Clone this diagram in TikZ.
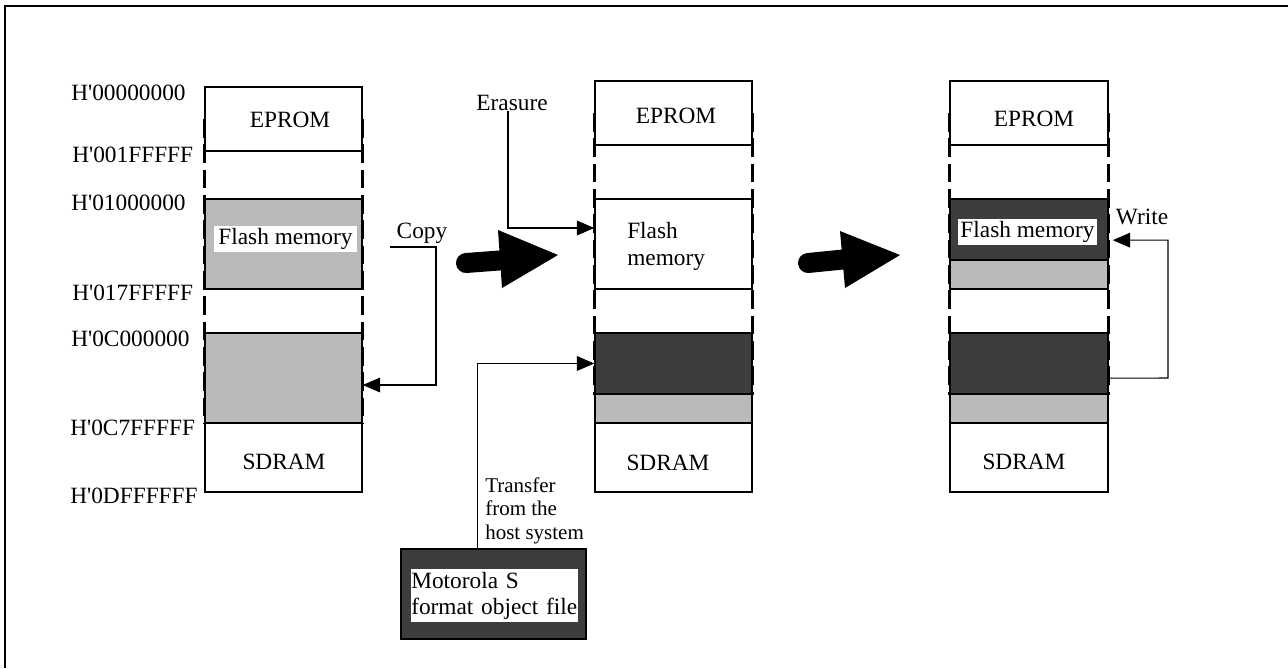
\documentclass[tikz,border=0pt]{standalone}
\usepackage{fontspec}
\setmainfont{Liberation Serif}
\usetikzlibrary{arrows.meta,fit}
\newcommand{\hq}{H\textquotesingle}
\begin{document}
\begin{tikzpicture}[x=0.75pt,y=-0.75pt,
  lbl/.style={font=\fontsize{17.5}{20}\selectfont, inner sep=0},
  small/.style={font=\fontsize{15.75}{17.6}\selectfont, inner sep=0},
  region/.style={draw, line width=1.1pt, inner sep=0},
  plain/.style={region},
  light/.style={region, fill=black!27},
  dark/.style={region, fill=black!76},
  side/.style={line width=2pt, dash pattern=on 14pt off 5pt},
  conn/.style={line width=0.8pt},
  arr/.style={conn, -{Triangle[length=13pt,width=11pt]}},
  bigarrow/.style={fill=black},
  whitebg/.style={fill=white}
]
\useasboundingbox (0,0) rectangle (1288,668);
% frame (only top and left edges visible)
\draw[line width=1.1pt] (5,668) -- (5,6) -- (1288,6);

% ---------- Column A ----------
\node[light, fit={(205,199)(362,289)}] (aflash) {};
\node[light, fit={(205,333)(362,423)}] (asdr1) {};
\node[plain, fit={(205,87)(362,151)}] (aeprom) {};
\node[plain, fit={(205,423)(362,492)}] (asdram) {};
\draw[side] (aeprom.west) -- (asdr1.south west);
\draw[side] (aeprom.east) -- (asdr1.south east);
\node[lbl] (aepromt) at (290,120) {EPROM};
\node[lbl, whitebg, inner xsep=3pt, minimum height=19.5pt] (aflasht) at (285.5,239) {Flash memory};
\node[lbl] (asdramt) at (284,462) {SDRAM};

\node[lbl, anchor=west] (ad1) at (71,93) {\hq00000000};
\node[lbl, anchor=west] (ad2) at (72,155) {\hq001FFFFF};
\node[lbl, anchor=west] (ad3) at (71,203) {\hq01000000};
\node[lbl, anchor=west] (ad4) at (72,293) {\hq017FFFFF};
\node[lbl, anchor=west] (ad5) at (71,339) {\hq0C000000};
\node[lbl, anchor=west] (ad6) at (70,428) {\hq0C7FFFFF};
\node[lbl, anchor=west] (ad7) at (70,496) {\hq0DFFFFFF};

% ---------- Column B ----------
\node[plain, fit={(595,81)(752,145)}] (beprom) {};
\node[plain, fit={(595,199)(752,289)}] (bflash) {};
\node[dark, fit={(595,333)(752,394)}] (bdark) {};
\node[light, fit={(595,394)(752,423)}] (blight) {};
\node[plain, fit={(595,423)(752,492)}] (bsdram) {};
\draw[side] (beprom.west) -- (bdark.south west);
\draw[side] (beprom.east) -- (bdark.south east);
\node[lbl] (bepromt) at (676,116) {EPROM};
\node[lbl, anchor=west, align=left] (bflasht) at (627,246.5) {Flash\\memory};
\node[lbl] (bsdramt) at (668,463) {SDRAM};

% ---------- Column C ----------
\node[plain, fit={(950,81)(1108,145)}] (ceprom) {};
\node[dark, fit={(950,199)(1108,260)}] (cdark) {};
\node[light, fit={(950,260)(1108,289)}] (clight) {};
\node[dark, fit={(950,333)(1108,394)}] (cdark2) {};
\node[light, fit={(950,394)(1108,423)}] (clight2) {};
\node[plain, fit={(950,423)(1108,492)}] (csdram) {};
\draw[side] (ceprom.west) -- (cdark2.south west);
\draw[side] (ceprom.east) -- (cdark2.south east);
\node[lbl] (cepromt) at (1034,119) {EPROM};
\node[lbl, whitebg, inner xsep=2pt, minimum height=19.5pt] (cflasht) at (1027.5,232) {Flash memory};
\node[lbl] (csdramt) at (1024,462) {SDRAM};

% ---------- Motorola file ----------
\node[dark, fit={(401,549)(586,639)}] (moto) {};
\node[lbl, whitebg, anchor=north west, text width=125pt, minimum height=39.75pt, align=left] (motot) at (411,569) {Motorola S\\format object file};

% ---------- Connectors ----------
\coordinate (copyL) at (390,247);
\node[lbl] (copyt) at (422,233) {Copy};
\draw[arr] (copyL) -- (436,247) |- ([yshift=-5.25pt]asdr1.east);

\node[lbl] (erat) at (512,103) {Erasure};
\draw[arr] (erat.south -| 508,0) |- ([yshift=12pt]bflash.west);

\node[small, anchor=west, align=left] (trant) at (485,510.5) {Transfer\\from the\\host system};
\draw[arr] ([xshift=-12pt]moto.north) |- (bdark.west);

\node[lbl] (writet) at (1142,217) {Write};
\draw[arr] ([yshift=-11pt]cdark2.east) -- (1168,378) |- ([yshift=-8pt,xshift=3pt]cdark.east);

% ---------- Big arrows ----------
\draw[line width=15pt, line cap=round] (466,263) -- (506,260);
\fill[bigarrow] (498,230) -- (558,255) -- (502,288) -- cycle;
\draw[line width=15pt, line cap=round] (808,263) -- (848,259);
\fill[bigarrow] (840,231) -- (900,255) -- (845,288) -- cycle;
\end{tikzpicture}
\end{document}
